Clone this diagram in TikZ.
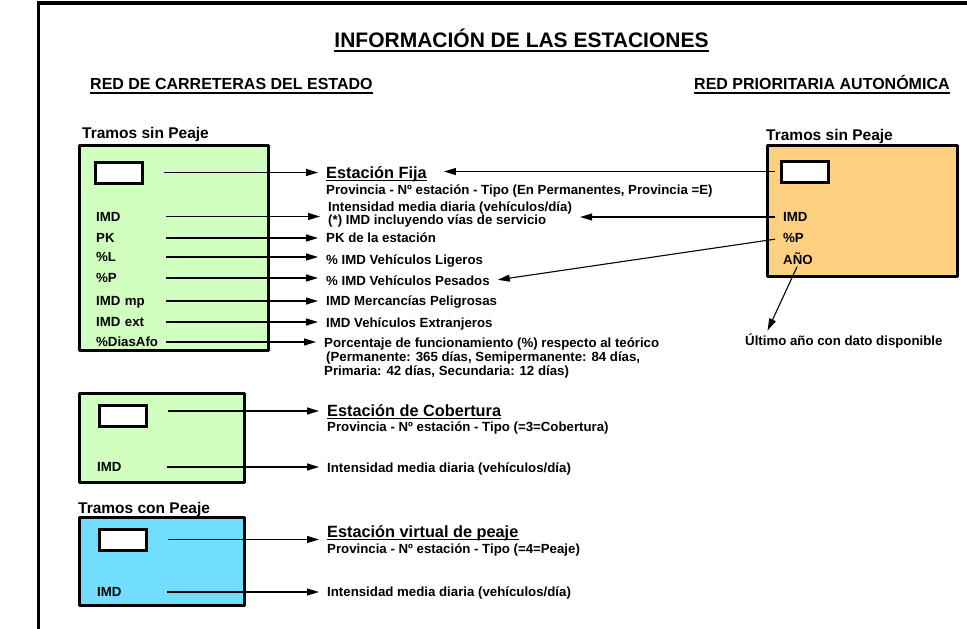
\documentclass[tikz,border=0pt]{standalone}
\usepackage{fontspec}
\setmainfont{Liberation Sans}
\usetikzlibrary{arrows.meta}
\definecolor{cobgreen}{RGB}{208,255,192}
\definecolor{rpaorange}{RGB}{255,208,128}
\definecolor{peajeblue}{RGB}{114,222,255}

\begin{document}
\begin{tikzpicture}[
			x=1pt,
			y=-1pt,
			every node/.style={
				inner sep=0pt,
				anchor=west,
				font=\bfseries\fontsize{13.25}{14}\selectfont,
				text height=9.5pt,
				text depth=0pt,
			},
			every edge/.style={
				>={Triangle[length=12pt,width=7pt]},
				draw,
				line width=1.1pt,
			},
			feed/.style={->,shorten >=8pt},
			panel/.style={draw,line width=3pt,line join=round},
			slot/.style={draw,fill=white,line width=3pt,anchor=center,minimum width=47pt,minimum height=21pt},
			lbl/.style={text width=70pt,align=left},
			head/.style={font=\bfseries\fontsize{15.5}{17}\selectfont,text height=11.1pt},
			sub/.style={font=\bfseries\fontsize{16}{18}\selectfont,text height=11.5pt},
			stn/.style={font=\bfseries\fontsize{16.3}{18}\selectfont,text height=11.7pt},
		]
		\useasboundingbox (0,0) rectangle (967,629);
		\draw[line width=3.5pt] (38.7,629) -- (38.7,3.2) -- (967,3.2);

		\node[anchor=center,font=\bfseries\fontsize{21}{24}\selectfont,text height=15pt](title) at (521.5,40) {INFORMACIÓN DE LAS ESTACIONES};
		\node[sub](rce) at (90,84)  {RED DE CARRETERAS DEL ESTADO};
		\node[sub](rpa) at (694,84) {RED PRIORITARIA AUTONÓMICA};
		\draw[line width=2pt] ([yshift=-3.5pt]title.base west) -- ([yshift=-3.5pt]title.base east);
		\draw[line width=1.5pt] ([yshift=-3.3pt]rce.base west) -- ([yshift=-3.3pt]rce.base east);
		\draw[line width=1.5pt] ([yshift=-3.3pt]rpa.base west) -- ([yshift=-3.3pt]rpa.base east);

		\node[head](ltramos) at (82,133) {Tramos sin Peaje};
		\draw[panel,fill=cobgreen] (79.5,145) rectangle (268.5,350);
		\node[slot](fslot) at (119,172.5) {};
		\node[lbl](fimd)     at (96,216.5) {IMD};
		\node[lbl](fpk)      at (96,238)   {PK};
		\node[lbl](fligeros) at (96,257)   {\%L};
		\node[lbl](fpesados) at (96,278)   {\%P};
		\node[lbl](fmp)      at (96,301)   {IMD mp};
		\node[lbl](fext)     at (96,322)   {IMD ext};
		\node[lbl](fdias)    at (96,342)   {\%DiasAfo};

		\node[stn](tfija) at (326,173) {Estación Fija};
		\node(tprovf) at (326,190) {Provincia - Nº estación - Tipo (En Permanentes, Provincia =E)};
		\node(tint)   at (328,207) {Intensidad media diaria (vehículos/día)};
		\node(tinta)  at (328,220) {(*) IMD incluyendo vías de servicio};
		\node(tpk)    at (326,238) {PK de la estación};
		\node(tlig)   at (326,260) {\% IMD Vehículos Ligeros};
		\node(tpes)   at (326,281) {\% IMD Vehículos Pesados};
		\node(tmp)    at (326,301) {IMD Mercancías Peligrosas};
		\node(tvext)  at (326,323) {IMD Vehículos Extranjeros};
		\node(tpct)   at (324,343) {Porcentaje de funcionamiento (\%) respecto al teórico};
		\node(tpcta)  at (326,357) {(Permanente: 365 días, Semipermanente: 84 días,};
		\node(tpctb)  at (324,371) {Primaria: 42 días, Secundaria: 12 días)};
		\draw[line width=1.2pt] ([yshift=-2pt]tfija.base west) -- ([yshift=-2pt]tfija.base east);

		\path (fslot.east) edge[feed,shorten <=20pt] (fslot.east -| tfija.west);
		\path (fimd.east)     edge[feed] (fimd.east -| tint.west);
		\path (fpk.east)      edge[feed] (fpk.east -| tpk.west);
		\path (fligeros.east) edge[feed] (fligeros.east -| tlig.west);
		\path (fpesados.east) edge[feed] (fpesados.east -| tpes.west);
		\path (fmp.east)      edge[feed] (fmp.east -| tmp.west);
		\path (fext.east)     edge[feed] (fext.east -| tvext.west);
		\path (fdias.east)    edge[feed] (fdias.east -| tpct.west);

		\node[head](rtramos) at (766,135) {Tramos sin Peaje};
		\draw[panel,fill=rpaorange] (767.5,145.5) rectangle (957.5,276.5);
		\node[slot](rslot) at (805,171.5) {};
		\node(rimd) at (783,217) {IMD};
		\node(rpes) at (783,238) {\%P};
		\node(rano) at (783,260) {AÑO};
		\node(tult) at (745,341) {Último año con dato disponible};

		\path (rslot.west) edge[->,shorten <=5pt,shorten >=17pt] (rslot.west -| tfija.east);
		\path (rimd.west)  edge[->,shorten <=8pt,shorten >=8pt] (rimd.west -| tint.east);
		\path (rpes.west)  edge[->,shorten <=8pt,shorten >=8pt] (tpes.east);
		\path (rano.south) edge[->,shorten <=2pt,shorten >=6pt] ([xshift=20pt]tult.north west);

		\draw[panel,fill=cobgreen] (79.5,393.5) rectangle (244.5,482.5);
		\node[slot](cslot) at (122.5,416) {};
		\node[lbl](cimd) at (97,467) {IMD};
		\node[stn](tcob) at (327,411) {Estación de Cobertura};
		\node(tprovc) at (327,427) {Provincia - Nº estación - Tipo (=3=Cobertura)};
		\node(tintc)  at (327,468) {Intensidad media diaria (vehículos/día)};
		\draw[line width=1.2pt] ([yshift=-2pt]tcob.base west) -- ([yshift=-2pt]tcob.base east);
		\path (cslot.east |- tcob.west) edge[feed,shorten <=20pt] (tcob.west);
		\path (cimd.east) edge[feed] (cimd.east -| tintc.west);

		\node[head](ctramos) at (78,508) {Tramos con Peaje};
		\draw[panel,fill=peajeblue] (79.5,517.5) rectangle (244.5,605.5);
		\node[slot](pslot) at (122.5,539.5) {};
		\node[lbl](pimd) at (97,592) {IMD};
		\node[stn](tpea) at (327,532) {Estación virtual de peaje};
		\node(tprovp) at (327,549) {Provincia - Nº estación - Tipo (=4=Peaje)};
		\node(tintp)  at (327,592) {Intensidad media diaria (vehículos/día)};
		\draw[line width=1.2pt] ([yshift=-2pt]tpea.base west) -- ([yshift=-2pt]tpea.base east);
		\path (pslot.east) edge[feed,shorten <=20pt] (pslot.east -| tpea.west);
		\path (pimd.east) edge[feed] (pimd.east -| tintp.west);
	\end{tikzpicture}
\end{document}
